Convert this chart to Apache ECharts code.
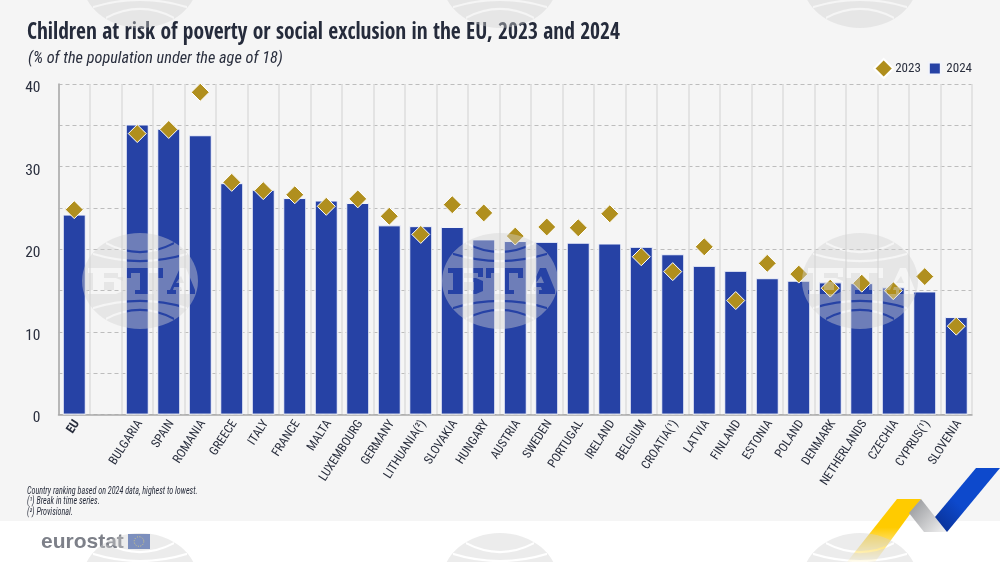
<!DOCTYPE html>
<html><head><meta charset="utf-8">
<style>html,body{margin:0;padding:0;background:#fff}#c{width:1000px;height:562px}</style>
<script src="https://cdn.jsdelivr.net/npm/echarts@6/dist/echarts.min.js"></script>
</head><body><div id="c"></div>
<script>
const categories = ['EU','','BULGARIA','SPAIN','ROMANIA','GREECE','ITALY','FRANCE','MALTA','LUXEMBOURG','GERMANY','LITHUANIA(²)','SLOVAKIA','HUNGARY','AUSTRIA','SWEDEN','PORTUGAL','IRELAND','BELGIUM','CROATIA(¹)','LATVIA','FINLAND','ESTONIA','POLAND','DENMARK','NETHERLANDS','CZECHIA','CYPRUS(¹)','SLOVENIA'];
const values2024 = [24.2,null,35.1,34.6,33.8,28.0,27.2,26.2,25.9,25.6,22.9,22.8,22.7,21.2,21.0,20.9,20.8,20.7,20.3,19.4,18.0,17.4,16.5,16.2,16.0,15.9,15.4,14.9,11.8];
const values2023 = [24.8,null,34.0,34.5,39.0,28.1,27.1,26.6,25.2,26.1,24.0,21.8,25.4,24.4,21.6,22.7,22.6,24.3,19.1,17.3,20.3,13.8,18.3,17.0,15.3,15.9,15.0,16.7,10.7];
const titleText = 'Children at risk of poverty or social exclusion in the EU, 2023 and 2024';
const subtitleText = '(% of the population under the age of 18)';
const footnotes = ['Country ranking based on 2024 data, highest to lowest.','(¹) Break in time series.','(²) Provisional.'];

const BOLD = '"Open Sans Condensed","Roboto Condensed",sans-serif';
const NARROW = '"Roboto Condensed","Open Sans Condensed",sans-serif';
const INK = '#2a2f3e';

function poly(p, rev){ const a = rev ? p.slice().reverse() : p; return 'M' + a.map(q => q.join(',')).join('L') + 'Z'; }
function edge(x){ return 48 - 48*Math.sqrt(1 - Math.pow((x-58)/58,2)); }
function band(x1,x2,dip,mirror){
  const e = edge(x1), c = 2*dip - e, t = 2.2;
  const m = y => 96-y;
  return mirror
    ? `M${x1},${m(e)}Q58,${m(c)} ${x2},${m(e)}L${x2},${m(e+t)}Q58,${m(c+t)} ${x1},${m(e+t)}Z`
    : `M${x1},${e+t}Q58,${c+t} ${x2},${e+t}L${x2},${e}Q58,${c} ${x1},${e}Z`;
}
const markPath = 'M0,48A58,48 0 1 1 116,48A58,48 0 1 1 0,48Z'
  + poly([[6,35],[41,35],[41,44],[36,44],[36,40],[22,40],[22,45],[34,45],[41,48],[41,58],[34,61],[6,61],[6,57],[11,57],[11,40],[6,40]],true)
  + poly([[22,49],[32,49],[32,57],[22,57]],false)
  + poly([[44,35],[81,35],[81,45],[76,45],[76,40],[67,40],[67,57],[72,57],[72,61],[53,61],[53,57],[58,57],[58,40],[49,40],[49,45],[44,45]],true)
  + poly([[98,35],[104,35],[113,57],[113,61],[97,61],[97,57],[100,57],[99,54],[92,54],[91,57],[94,57],[94,61],[85,61],[85,57],[88,57]],true)
  + poly([[99,43],[102,50],[94,50]],false)
  + band(24,92,18,false) + band(11,105,27,false)
  + band(24,92,18,true) + band(11,105,27,true);
echarts.graphic.registerShape('btaMark', echarts.graphic.extendPath(markPath, {}));
function mark(cx,cy){
  return {type:'btaMark',silent:true,z:100,x:cx-58,y:cy-48,shape:{},style:{fill:'rgba(209,209,209,0.42)'}};
}
const marks = [[140,-20],[500,-20],[860,-20],[140,281],[500,281],[860,281],[140,581],[500,581],[860,581]].map(p=>mark(p[0],p[1]));

const graphics = [
  {type:'rect',silent:true,z:-10,shape:{x:0,y:0,width:1000,height:521},style:{fill:'#f5f5f5'}},
  {type:'text',z:50,x:27,y:32.5,scaleX:0.896,style:{text:titleText,fontFamily:BOLD,fontWeight:'bold',fontSize:24,fill:'#252b3b',verticalAlign:'middle'}},
  {type:'text',z:50,x:28,y:59,style:{text:subtitleText,fontFamily:NARROW,fontStyle:'italic',fontSize:16.3,fill:INK,verticalAlign:'middle'}},
  ...footnotes.map((t,i)=>({type:'text',z:50,x:27,y:491+i*10.5,scaleX:0.81,style:{text:t,fontFamily:NARROW,fontStyle:'italic',fontSize:10,fill:INK,verticalAlign:'middle'}})),
  {type:'text',z:50,x:41,y:542,style:{text:'eurostat',fontFamily:'"Liberation Sans",sans-serif',fontWeight:'bold',fontSize:21,fill:'#7d8089',verticalAlign:'middle'}},
  {type:'rect',z:50,shape:{x:128,y:534,width:22,height:15},style:{fill:'#3f5fae'}},
  {type:'circle',z:51,shape:{cx:139,cy:541.5,r:4.8},style:{fill:'none',stroke:'#d8c64a',lineWidth:1,lineDash:[1,1.5]}},
  {type:'polygon',z:50,silent:true,shape:{points:[[897,499],[921,499],[875,562],[847,562]]},
    style:{fill:{type:'linear',x:0,y:0,x2:0,y2:1,colorStops:[{offset:0,color:'#ffcb00'},{offset:0.45,color:'#ffcb00'},{offset:1,color:'rgba(255,203,0,0.05)'}]}}},
  {type:'polygon',z:50,silent:true,shape:{points:[[921,499],[947,532],[924,532],[909,513]]},
    style:{fill:{type:'linear',x:0,y:0,x2:1,y2:1,colorStops:[{offset:0,color:'#8f9195'},{offset:1,color:'#f4f4f4'}]}}},
  {type:'polygon',z:50,silent:true,shape:{points:[[976,468],[1000,468],[947,532],[935,517]]},
    style:{fill:{type:'linear',x:1,y:0,x2:0,y2:1,colorStops:[{offset:0,color:'#0d49cc'},{offset:0.6,color:'#0d49cc'},{offset:1,color:'#0a2e8e'}]}}},
  ...marks
];

const chart = echarts.init(document.getElementById('c'),null,{renderer:'canvas'});
chart.setOption({
  animation:false,
  backgroundColor:'#fff',
  textStyle:{fontFamily:NARROW},
  graphic:{elements:graphics},
  grid:{left:58.5,right:28,top:84,bottom:147.4,containLabel:false},
  legend:{
    right:28,top:58,padding:0,itemGap:3.5,itemWidth:19,itemHeight:19,
    textStyle:{fontFamily:NARROW,fontSize:13,color:INK,padding:[0,0,0,-3]},
    data:[{name:'2023',icon:'diamond'},{name:'2024',icon:'path://M0,0L0,0M3.5,3.5L15.5,3.5L15.5,15.5L3.5,15.5ZM19,19L19,19'}]
  },
  xAxis:{
    type:'category',
    data:categories.map(c=>c==='EU'?{value:c,textStyle:{fontWeight:'bold'}}:c),
    axisLine:{lineStyle:{color:'#a9a9a9',width:1.5}},
    axisTick:{show:false},
    axisLabel:{interval:0,rotate:57,fontSize:12.4,color:INK,margin:11,padding:[0,-5,0,0],fontFamily:NARROW},
    splitLine:{show:true,interval:0,lineStyle:{color:'#dcdcdc',width:1.5}}
  },
  yAxis:{
    type:'value',min:0,max:40,interval:5,
    axisLine:{show:true,lineStyle:{color:'#a9a9a9',width:1.5}},
    axisTick:{show:false},
    axisLabel:{fontSize:15.5,color:INK,margin:18,verticalAlign:'top',lineHeight:8,fontFamily:NARROW,formatter:v=>v%10===0?String(v):''},
    splitLine:{show:true,lineStyle:{color:'#bdbdbd',type:[4,3],width:1}}
  },
  series:[
    {name:'2024',type:'bar',data:values2024,barWidth:23,z:3,itemStyle:{color:'#2642a5',borderColor:'#f2f4fb',borderWidth:1}},
    {name:'2023',type:'scatter',data:values2023,symbol:'diamond',symbolSize:18,z:5,itemStyle:{color:'#b08f1e',borderColor:'#fff',borderWidth:1,opacity:1}}
  ]
});
</script></body></html>
